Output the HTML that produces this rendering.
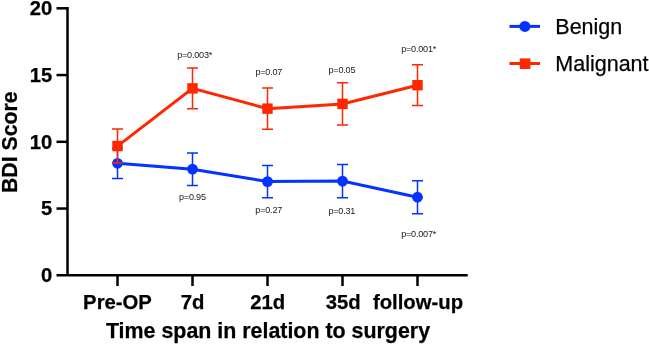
<!DOCTYPE html>
<html><head><meta charset="utf-8"><title>BDI Score</title>
<style>
html,body{margin:0;padding:0;background:#fff;}
body{width:649px;height:345px;position:relative;overflow:hidden;font-family:"Liberation Sans",sans-serif;}
svg text{font-family:"Liberation Sans",sans-serif;}
svg{filter:blur(0.3px);}
</style></head><body>
<svg width="649" height="345" viewBox="0 0 649 345" style="position:absolute;left:0;top:0">
<path d="M67.5 7.05V276.55M56.5 275.3H467.7" stroke="#000" stroke-width="2.5" fill="none"/>
<path d="M56.5 208.55H67.5" stroke="#000" stroke-width="2.5"/>
<path d="M56.5 141.80H67.5" stroke="#000" stroke-width="2.5"/>
<path d="M56.5 75.05H67.5" stroke="#000" stroke-width="2.5"/>
<path d="M56.5 8.30H67.5" stroke="#000" stroke-width="2.5"/>
<path d="M117.5 275.3V286" stroke="#000" stroke-width="2.5"/>
<path d="M192.5 275.3V286" stroke="#000" stroke-width="2.5"/>
<path d="M267.5 275.3V286" stroke="#000" stroke-width="2.5"/>
<path d="M342.5 275.3V286" stroke="#000" stroke-width="2.5"/>
<path d="M417.5 275.3V286" stroke="#000" stroke-width="2.5"/>
<path d="M117.50 148.21V178.38M112.00 148.21H123.00M112.00 178.38H123.00" stroke="#0433ff" stroke-width="1.5" fill="none"/>
<path d="M192.50 152.88V185.45M187.00 152.88H198.00M187.00 185.45H198.00" stroke="#0433ff" stroke-width="1.5" fill="none"/>
<path d="M267.50 165.43V197.74M262.00 165.43H273.00M262.00 197.74H273.00" stroke="#0433ff" stroke-width="1.5" fill="none"/>
<path d="M342.50 164.43V197.80M337.00 164.43H348.00M337.00 197.80H348.00" stroke="#0433ff" stroke-width="1.5" fill="none"/>
<path d="M417.50 180.65V213.76M412.00 180.65H423.00M412.00 213.76H423.00" stroke="#0433ff" stroke-width="1.5" fill="none"/>
<polyline points="117.50,163.29 192.50,169.17 267.50,181.58 342.50,181.12 417.50,197.20" fill="none" stroke="#0433ff" stroke-width="3"/>
<circle cx="117.50" cy="163.29" r="5.4" fill="#0433ff"/>
<circle cx="192.50" cy="169.17" r="5.4" fill="#0433ff"/>
<circle cx="267.50" cy="181.58" r="5.4" fill="#0433ff"/>
<circle cx="342.50" cy="181.12" r="5.4" fill="#0433ff"/>
<circle cx="417.50" cy="197.20" r="5.4" fill="#0433ff"/>
<path d="M117.50 129.12V163.03M112.00 129.12H123.00M112.00 163.03H123.00" stroke="#ff2600" stroke-width="1.5" fill="none"/>
<path d="M192.50 67.97V108.83M187.00 67.97H198.00M187.00 108.83H198.00" stroke="#ff2600" stroke-width="1.5" fill="none"/>
<path d="M267.50 88.07V129.18M262.00 88.07H273.00M262.00 129.18H273.00" stroke="#ff2600" stroke-width="1.5" fill="none"/>
<path d="M342.50 82.66V125.11M337.00 82.66H348.00M337.00 125.11H348.00" stroke="#ff2600" stroke-width="1.5" fill="none"/>
<path d="M417.50 64.77V105.62M412.00 64.77H423.00M412.00 105.62H423.00" stroke="#ff2600" stroke-width="1.5" fill="none"/>
<polyline points="117.50,146.07 192.50,88.40 267.50,108.63 342.50,103.89 417.50,85.20" fill="none" stroke="#ff2600" stroke-width="3"/>
<rect x="112.30" y="140.87" width="10.4" height="10.4" fill="#ff2600"/>
<rect x="187.30" y="83.20" width="10.4" height="10.4" fill="#ff2600"/>
<rect x="262.30" y="103.43" width="10.4" height="10.4" fill="#ff2600"/>
<rect x="337.30" y="98.69" width="10.4" height="10.4" fill="#ff2600"/>
<rect x="412.30" y="80.00" width="10.4" height="10.4" fill="#ff2600"/>
<path d="M509.5 26.4H540" stroke="#0433ff" stroke-width="3"/><circle cx="524.9" cy="26.4" r="5.5" fill="#0433ff"/>
<path d="M509.5 63.5H540" stroke="#ff2600" stroke-width="3"/><rect x="519.8" y="58.4" width="10.6" height="10.6" fill="#ff2600"/>
</svg>
<svg width="649" height="345" viewBox="0 0 649 345" style="position:absolute;left:0;top:0;font-family:'Liberation Sans',sans-serif" fill="#000" stroke="#000" stroke-width="0.25"><text x="52.3" y="282.1" font-size="20.2" font-weight="bold" text-anchor="end" >0</text>
<text x="52.3" y="215.35" font-size="20.2" font-weight="bold" text-anchor="end" >5</text>
<text x="52.3" y="148.6" font-size="20.2" font-weight="bold" text-anchor="end" >10</text>
<text x="52.3" y="81.85" font-size="20.2" font-weight="bold" text-anchor="end" >15</text>
<text x="52.3" y="15.1" font-size="20.2" font-weight="bold" text-anchor="end" >20</text>
<text x="117.5" y="309.4" font-size="20.3" font-weight="bold" text-anchor="middle" >Pre-OP</text>
<text x="192.5" y="309.4" font-size="20.3" font-weight="bold" text-anchor="middle" >7d</text>
<text x="267.8" y="309.4" font-size="20.3" font-weight="bold" text-anchor="middle" >21d</text>
<text x="343.3" y="309.4" font-size="20.3" font-weight="bold" text-anchor="middle" >35d</text>
<text x="418.0" y="309.4" font-size="20.3" font-weight="bold" text-anchor="middle" >follow-up</text>
<text x="268.0" y="338.4" font-size="21.4" font-weight="bold" text-anchor="middle" >Time span in relation to surgery</text>
<text x="0" y="0" font-size="21.25" font-weight="bold" text-anchor="middle" transform="translate(16.5 142.2) rotate(-90)">BDI Score</text>
<text x="555.3" y="33.8" font-size="21.5" font-weight="normal" text-anchor="start" >Benign</text>
<text x="555.3" y="71.0" font-size="21.5" font-weight="normal" text-anchor="start" >Malignant</text>
<text x="194.6" y="57.9" font-size="9.1" font-weight="normal" text-anchor="middle" letter-spacing="-0.22" stroke="none" fill="#1a1a1a">p=0.003*</text>
<text x="268.8" y="75.3" font-size="9.1" font-weight="normal" text-anchor="middle" letter-spacing="-0.22" stroke="none" fill="#1a1a1a">p=0.07</text>
<text x="341.9" y="73.1" font-size="9.1" font-weight="normal" text-anchor="middle" letter-spacing="-0.22" stroke="none" fill="#1a1a1a">p=0.05</text>
<text x="418.6" y="51.9" font-size="9.1" font-weight="normal" text-anchor="middle" letter-spacing="-0.22" stroke="none" fill="#1a1a1a">p=0.001*</text>
<text x="192.4" y="200" font-size="9.1" font-weight="normal" text-anchor="middle" letter-spacing="-0.22" stroke="none" fill="#1a1a1a">p=0.95</text>
<text x="268.7" y="213" font-size="9.1" font-weight="normal" text-anchor="middle" letter-spacing="-0.22" stroke="none" fill="#1a1a1a">p=0.27</text>
<text x="341.8" y="213.9" font-size="9.1" font-weight="normal" text-anchor="middle" letter-spacing="-0.22" stroke="none" fill="#1a1a1a">p=0.31</text>
<text x="418.6" y="237" font-size="9.1" font-weight="normal" text-anchor="middle" letter-spacing="-0.22" stroke="none" fill="#1a1a1a">p=0.007*</text></svg>
</body></html>
